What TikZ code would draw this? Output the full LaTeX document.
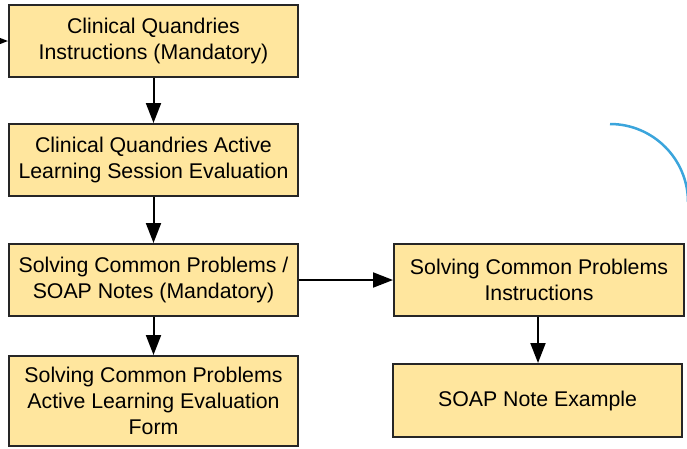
\documentclass[tikz,border=0pt]{standalone}
\usepackage{fontspec}
\setmainfont{Liberation Sans}
\usetikzlibrary{arrows.meta}
\definecolor{boxfill}{RGB}{255,230,158}
\definecolor{arcblue}{RGB}{59,165,220}
\begin{document}
\begin{tikzpicture}[x=1pt,y=-1pt,
  box/.style={draw=black!85, line width=2pt, fill=boxfill, minimum width=289pt,
    minimum height=72pt, align=center, inner sep=0pt,
    font=\fontsize{21.3}{25.8}\selectfont},
  arr/.style={line width=2pt, draw=black, -{Triangle[length=20pt,width=15pt]}}]
\useasboundingbox (0,0) rectangle (687,448);
\clip (0,0) rectangle (687,448);
\node[box] (b1) at (153.5,41) {Clinical Quandries\\Instructions (Mandatory)};
\node[box] (b2) at (153.5,160) {Clinical Quandries Active\\Learning Session Evaluation};
\node[box] (b3) at (153.5,280) {Solving Common Problems /\\SOAP Notes (Mandatory)};
\node[box, minimum height=90pt] (b4) at (153.5,401) {Solving Common Problems\\Active Learning Evaluation\\Form};
\node[box, minimum width=290pt] (ba) at (539,280) {Solving Common Problems\\Instructions};
\node[box, minimum height=73pt] (bb) at (537.5,400.5) {SOAP Note Example};
\coordinate (in) at (-30,41);
\draw[arr] (in) -- (b1.west);
\draw[arr] (b1) -- (b2);
\draw[arr] (b2) -- (b3);
\draw[arr] (b3) -- (b4);
\draw[arr] (b3) -- (ba);
\draw[arr] (ba.south -| 538,0) -- (bb.north -| 538,0);
\draw[arcblue, line width=2.5pt] (610,124) .. controls (653,124) and (688,159) .. (688,202);
\end{tikzpicture}
\end{document}
